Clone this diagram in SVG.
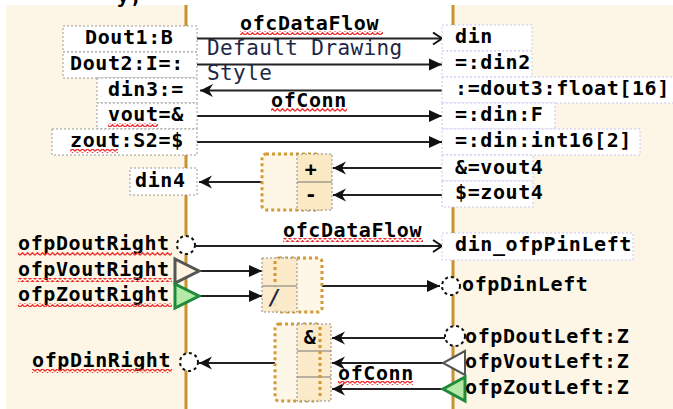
<svg xmlns="http://www.w3.org/2000/svg" width="673" height="409" viewBox="0 0 673 409">
<style>
.t{font-family:"DejaVu Sans Mono","Liberation Mono",monospace;font-weight:bold;font-size:20px;letter-spacing:0.6px;fill:#000}
.n{font-family:"DejaVu Sans Mono","Liberation Mono",monospace;font-size:21px;letter-spacing:0.4px;fill:#1c2846}
.lb{fill:#fff;stroke:#9a9a9a;stroke-width:1;stroke-dasharray:2 2}
.rb{fill:#fff;stroke:#c6c6f2;stroke-width:1;stroke-dasharray:2 2}
.c{stroke:#222;stroke-width:2;fill:none}
.blk{fill:#fef7e8;stroke:#d09a35;stroke-width:3;stroke-dasharray:3 3}
.port{fill:#fbe9c4;stroke:#8a8a8a;stroke-width:1;stroke-dasharray:2 2}
.dv{stroke:#777;stroke-width:1.2}
.dc{fill:#fff;stroke:#111;stroke-width:2;stroke-dasharray:3 3}
.panel{fill:#fdf6e6}
.edge{stroke:#c8922e;stroke-width:3}
.sq{fill:url(#sq)}
</style>
<defs>
<pattern id="sq" width="5" height="4" patternUnits="userSpaceOnUse"><path d="M0 3.3 L2.5 0.7 L5 3.3" fill="none" stroke="#f03030" stroke-width="1.3"/></pattern>
<marker id="tri" markerUnits="userSpaceOnUse" markerWidth="14" markerHeight="14" refX="13" refY="7" orient="auto"><path d="M0,1 L13,7 L0,13 z" fill="#111"/></marker>
<marker id="st" markerUnits="userSpaceOnUse" markerWidth="14" markerHeight="14" refX="13" refY="7" orient="auto"><path d="M0,0.5 L13,7 L0,13.5 L4,7 z" fill="#111"/></marker>
<marker id="ch" markerUnits="userSpaceOnUse" markerWidth="12" markerHeight="14" refX="10" refY="7" orient="auto"><path d="M1,1 L10,7 L1,13" fill="none" stroke="#111" stroke-width="2"/></marker>
</defs>
<rect width="673" height="409" fill="#fff"/>
<g id="panel-left"><rect class="panel" x="6" y="5" width="180" height="404"/><line class="edge" x1="186" y1="5" x2="186" y2="409"/></g>
<g id="panel-right"><rect class="panel" x="454" y="5" width="219" height="404"/><line class="edge" x1="453" y1="5" x2="453" y2="409"/></g>
<text class="t" x="117" y="3">y,</text>

<g id="connectors">
<line class="c" x1="197" y1="38.5" x2="442" y2="38.5" marker-end="url(#ch)"/>
<line class="c" x1="197" y1="64.5" x2="442" y2="64.5" marker-end="url(#tri)"/>
<line class="c" x1="442" y1="90.5" x2="200" y2="90.5" marker-end="url(#st)"/>
<line class="c" x1="197" y1="116" x2="442" y2="116" marker-end="url(#tri)"/>
<line class="c" x1="197" y1="142" x2="442" y2="142" marker-end="url(#tri)"/>
<line class="c" x1="442" y1="168" x2="333" y2="168" marker-end="url(#st)"/>
<line class="c" x1="442" y1="195" x2="333" y2="195" marker-end="url(#st)"/>
<line class="c" x1="262" y1="182" x2="199" y2="182" marker-end="url(#st)"/>
<line class="c" x1="196" y1="246" x2="442" y2="246" marker-end="url(#ch)"/>
<line class="c" x1="199" y1="271" x2="262" y2="271" marker-end="url(#tri)" stroke="#444"/>
<line class="c" x1="199" y1="296" x2="262" y2="296" marker-end="url(#tri)" stroke="#444"/>
<line class="c" x1="322" y1="286" x2="440" y2="286" marker-end="url(#tri)"/>
<line class="c" x1="445" y1="338" x2="332" y2="338" marker-end="url(#st)"/>
<line class="c" x1="443" y1="363" x2="332" y2="363" marker-end="url(#st)"/>
<line class="c" x1="443" y1="389" x2="332" y2="389" marker-end="url(#st)"/>
<line class="c" x1="275" y1="363" x2="199" y2="363" marker-end="url(#st)"/>
<text class="t" x="240" y="30">ofcDataFlow</text><rect class="sq" x="240" y="31" width="143" height="4"/>
<text class="n" x="207" y="55">Default Drawing</text>
<text class="n" x="207" y="80">Style</text>
<text class="t" x="271" y="107">ofConn</text><rect class="sq" x="271" y="108" width="76" height="4"/>
<text class="t" x="283" y="237">ofcDataFlow</text><rect class="sq" x="283" y="238" width="140" height="4"/>
<text class="t" x="338" y="380">ofConn</text><rect class="sq" x="338" y="381" width="75" height="4"/>
</g>

<g id="dout1"><rect class="lb" x="63" y="26" width="134" height="26"/><text class="t" x="85" y="44">Dout1:B</text></g>
<g id="dout2"><rect class="lb" x="63" y="52" width="134" height="26"/><text class="t" x="70" y="70">Dout2:I=:</text></g>
<g id="din3"><rect class="lb" x="97" y="78" width="100" height="25"/><text class="t" x="108" y="96">din3:=</text></g>
<g id="vout"><rect class="lb" x="97" y="103" width="100" height="26"/><text class="t" x="108" y="121">vout=&amp;</text><rect class="sq" x="108" y="123" width="50" height="4"/></g>
<g id="zout"><rect class="lb" x="52" y="129" width="145" height="26"/><text class="t" x="70" y="147">zout:S2=$</text><rect class="sq" x="70" y="149" width="48" height="4"/></g>
<g id="din4"><rect class="lb" x="130" y="168" width="67" height="27"/><text class="t" x="135" y="187">din4</text></g>

<g id="din"><rect class="rb" x="442" y="25" width="90" height="26"/><text class="t" x="455" y="43">din</text></g>
<g id="din2"><rect class="rb" x="442" y="51" width="90" height="26"/><text class="t" x="455" y="69">=:din2</text></g>
<g id="dout3"><rect class="rb" x="442" y="77" width="235" height="26"/><text class="t" x="455" y="95">:=dout3:float[16]</text></g>
<g id="dinF"><rect class="rb" x="442" y="103" width="113" height="26"/><text class="t" x="455" y="121">=:din:F</text></g>
<g id="dinInt"><rect class="rb" x="442" y="129" width="198" height="26"/><text class="t" x="455" y="147">=:din:int16[2]</text></g>
<g id="vout4"><rect class="rb" x="442" y="155" width="91" height="26"/><text class="t" x="455" y="174">&amp;=vout4</text></g>
<g id="zout4"><rect class="rb" x="442" y="181" width="91" height="26"/><text class="t" x="455" y="199">$=zout4</text></g>
<g id="dinPinLeft"><rect class="rb" x="442" y="233" width="191" height="27"/><text class="t" x="455" y="251">din_ofpPinLeft</text></g>

<g id="block-sum"><rect class="blk" x="262" y="154" width="60" height="56" rx="4"/><rect class="port" x="297" y="154" width="35" height="56"/><line class="dv" x1="297" y1="182" x2="332" y2="182"/><text class="t" x="311" y="176" text-anchor="middle">+</text><text class="t" x="311" y="201" text-anchor="middle">-</text></g>
<g id="block-div"><rect class="blk" x="275" y="258" width="47" height="54" rx="4"/><rect class="port" x="262" y="258" width="35" height="54" fill-opacity="0.85"/><line class="dv" x1="262" y1="286" x2="297" y2="286"/><line x1="275" y1="261" x2="275" y2="284" stroke="#d09a35" stroke-width="3" stroke-dasharray="3 3"/><text class="n" x="275" y="305" text-anchor="middle" font-style="italic" font-weight="bold">/</text></g>
<g id="block-and"><rect class="blk" x="275" y="324" width="45" height="77" rx="4"/><rect class="port" x="297" y="324" width="34" height="77" fill-opacity="0.85"/><line class="dv" x1="297" y1="351" x2="331" y2="351"/><line class="dv" x1="297" y1="377" x2="331" y2="377"/><line x1="320" y1="327" x2="320" y2="398" stroke="#d09a35" stroke-width="3" stroke-dasharray="3 3"/><text class="t" x="310" y="344" text-anchor="middle">&amp;</text></g>

<g id="ofpDoutRight"><circle class="dc" cx="186" cy="245" r="9"/><text class="t" x="18" y="250">ofpDoutRight</text><rect class="sq" x="18" y="252" width="154" height="4"/></g>
<g id="ofpVoutRight"><polygon points="175,259 199,271 175,283" fill="#fdf3de" stroke="#555" stroke-width="3"/><text class="t" x="18" y="276">ofpVoutRight</text><rect class="sq" x="18" y="278" width="154" height="4"/></g>
<g id="ofpZoutRight"><polygon points="175,284 199,296 175,308" fill="#b6e8a6" stroke="#1e8a3a" stroke-width="3"/><text class="t" x="18" y="301">ofpZoutRight</text><rect class="sq" x="18" y="303" width="154" height="4"/></g>
<g id="ofpDinRight"><circle class="dc" cx="189" cy="362" r="9"/><text class="t" x="32" y="367">ofpDinRight</text><rect class="sq" x="32" y="369" width="140" height="4"/></g>
<g id="ofpDinLeft"><circle class="dc" cx="451" cy="286" r="9"/><text class="t" x="462" y="291">ofpDinLeft</text></g>
<g id="ofpDoutLeft"><circle class="dc" cx="455" cy="336" r="10"/><text class="t" x="465" y="343">ofpDoutLeft:Z</text></g>
<g id="ofpVoutLeft"><polygon points="465,351 443,363 465,375" fill="#fff" stroke="#555" stroke-width="2"/><text class="t" x="465" y="368">ofpVoutLeft:Z</text></g>
<g id="ofpZoutLeft"><polygon points="465,377 443,389 465,401" fill="#b6e8a6" stroke="#1e8a3a" stroke-width="3"/><text class="t" x="465" y="394">ofpZoutLeft:Z</text></g>
</svg>
